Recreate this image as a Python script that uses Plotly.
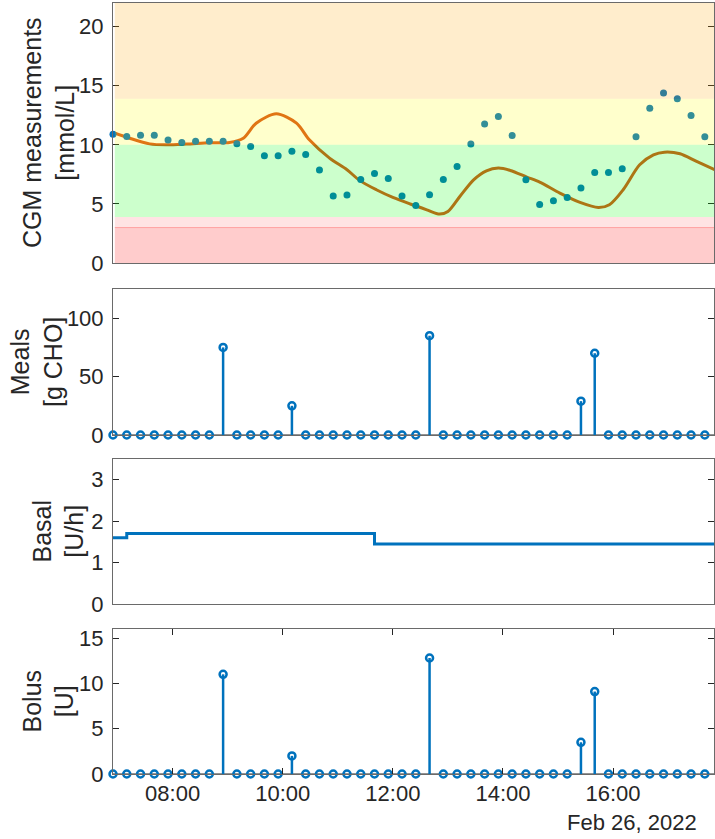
import plotly.graph_objects as go
from plotly.subplots import make_subplots

DAY = "2022-02-26 "

# ---- data -------------------------------------------------------------
sample_times = ["06:55", "07:10", "07:25", "07:40", "07:55", "08:10", "08:25", "08:40",
                "08:55", "09:10", "09:25", "09:40", "09:55", "10:10", "10:25", "10:40",
                "10:55", "11:10", "11:25", "11:40", "11:55", "12:10", "12:25", "12:40",
                "12:55", "13:10", "13:25", "13:40", "13:55", "14:10", "14:25", "14:40",
                "14:55", "15:10", "15:25", "15:40", "15:55", "16:10", "16:25", "16:40",
                "16:55", "17:10", "17:25", "17:40"]

cgm_values = [10.9, 10.7, 10.8, 10.8, 10.4, 10.2, 10.3, 10.3, 10.3, 10.1,
              9.86, 9.07, 9.07, 9.46, 9.18, 7.87, 5.66, 5.75, 7.07, 7.58,
              7.15, 5.66, 4.87, 5.77, 7.07, 8.17, 10.06, 11.77, 12.39, 10.79,
              7.04, 4.96, 5.27, 5.55, 6.34, 7.66, 7.66, 7.97, 10.68, 13.1,
              14.39, 13.89, 12.48, 10.68]

model_times = ["06:55", "07:13", "07:35", "07:53", "08:15", "08:40", "09:02", "09:17",
               "09:31", "09:53", "10:15", "10:29", "10:51", "11:10", "11:24", "11:42",
               "12:00", "12:19", "12:37", "12:51", "13:00", "13:13", "13:28", "13:42",
               "13:55", "14:08", "14:26", "14:40", "15:02", "15:24", "15:44", "15:56",
               "16:11", "16:29", "16:44", "16:56", "17:13", "17:31", "17:51"]
model_values = [11.04, 10.56, 10.08, 10.0, 10.06, 10.17, 10.2, 10.56,
                11.83, 12.62, 11.83, 10.42, 8.87, 7.89, 6.97, 6.2,
                5.55, 4.99, 4.5, 4.14, 4.36, 5.63, 7.04, 7.8,
                8.03, 7.83, 7.27, 6.85, 5.92, 5.13, 4.7, 4.93,
                6.2, 8.31, 9.15, 9.38, 9.24, 8.59, 7.89]

meal_values = [0, 0, 0, 0, 0, 0, 0, 0, 75, 0, 0, 0, 0, 25, 0, 0, 0, 0, 0, 0, 0, 0,
               0, 85, 0, 0, 0, 0, 0, 0, 0, 0, 0, 0, 29, 70, 0, 0, 0, 0, 0, 0, 0, 0]

bolus_values = [0, 0, 0, 0, 0, 0, 0, 0, 11.0, 0, 0, 0, 0, 2.0, 0, 0, 0, 0, 0, 0, 0, 0,
                0, 12.8, 0, 0, 0, 0, 0, 0, 0, 0, 0, 0, 3.5, 9.1, 0, 0, 0, 0, 0, 0, 0, 0]

basal_times = ["06:55", "07:10", "11:40", "17:50"]
basal_values = [1.6, 1.7, 1.45, 1.45]

# glucose range bands (mmol/L): lower, upper, fill colour
band_lower = [13.9, 10.0, 3.9, 3.0, 0.0]
band_upper = [22.0, 13.9, 10.0, 3.9, 3.0]
band_colors = ["rgba(255,165,0,0.2)", "rgba(255,255,0,0.2)", "rgba(0,255,0,0.2)",
               "rgba(255,0,0,0.11)", "rgba(255,0,0,0.2)"]

y_titles = ["CGM measurements<br>[mmol/L]", "Meals<br>[g CHO]", "Basal<br>[U/h]", "Bolus<br>[U]"]
y_ranges = [[0, 22], [0, 125], [0, 3.5], [0, 16]]
y_ticks = [[0, 5, 10, 15, 20], [0, 50, 100], [0, 1, 2, 3], [0, 5, 10, 15]]
x_range = ["06:55", "17:50"]

# ---- figure -----------------------------------------------------------
BLUE = "#0072BD"
ORANGE = "#D95319"
FONT = "Liberation Sans, Arial, Helvetica, sans-serif"
TXT = "#262626"
TICK_SIZE = 22
TITLE_SIZE = 25

def ts(lst):
    return [DAY + t for t in lst]

fig = make_subplots(rows=4, cols=1, shared_xaxes=True)

fig.add_trace(go.Scatter(x=ts(model_times), y=model_values, mode="lines",
                         line=dict(color=ORANGE, width=3, shape="spline", smoothing=0.8),
                         showlegend=False), row=1, col=1)
fig.add_trace(go.Scatter(x=ts(sample_times), y=cgm_values, mode="markers",
                         marker=dict(color=BLUE, size=7), cliponaxis=False,
                         showlegend=False), row=1, col=1)

stem_marker = dict(symbol="circle-open", size=7, color=BLUE, line=dict(width=2.5, color=BLUE))
for row, vals in [(2, meal_values), (4, bolus_values)]:
    fig.add_trace(go.Scatter(x=ts(sample_times), y=vals, mode="markers",
                             marker=stem_marker, cliponaxis=False, showlegend=False,
                             error_y=dict(type="data", symmetric=False,
                                          array=[0] * len(vals), arrayminus=vals,
                                          width=0, thickness=2.5, color=BLUE)),
                  row=row, col=1)

fig.add_trace(go.Scatter(x=ts(basal_times), y=basal_values, mode="lines",
                         line=dict(color=BLUE, width=3, shape="hv"), showlegend=False),
              row=3, col=1)

# bands above the data (semi-transparent), as in the original
for lo, hi, c in zip(band_lower, band_upper, band_colors):
    fig.add_shape(type="rect", xref="x domain", yref="y", x0=0.003, x1=1, y0=lo, y1=hi,
                  fillcolor=c, line=dict(width=0), layer="above")
fig.add_shape(type="line", xref="x domain", yref="y", x0=0.003, x1=1,
              y0=band_upper[4], y1=band_upper[4],
              line=dict(color="rgba(255,0,0,0.25)", width=1), layer="above")

H = 839
T, B = 3, 65
ph = H - T - B
panel_px = [(3, 263), (289, 435), (459, 604), (629, 774)]
domains = [[(H - B - b) / ph, (H - B - t) / ph] for t, b in panel_px]
domains[3][0] = 0.0
domains[0][1] = 1.0

axis_line = "#6a6a6a"
for i in range(4):
    n = "" if i == 0 else str(i + 1)
    fig.layout["yaxis" + n].update(
        domain=domains[i], range=y_ranges[i], tickvals=y_ticks[i], showgrid=False,
        zeroline=False, showline=True, linecolor=axis_line, linewidth=1, mirror="ticks",
        ticks="inside", ticklen=6, tickcolor=TXT, tickwidth=1,
        tickfont=dict(family=FONT, size=TICK_SIZE, color=TXT), ticklabelstandoff=4)
    fig.layout["xaxis" + n].update(
        type="date", range=ts(x_range), showgrid=False, zeroline=False, showline=True,
        linecolor=axis_line, linewidth=1, mirror=True)
    if i < 3:
        fig.layout["xaxis" + n].update(ticks="", showticklabels=False)
    else:
        fig.layout["xaxis" + n].update(
            ticks="inside", ticklen=6, tickcolor=TXT, mirror="ticks", dtick=7200000,
            tick0=DAY + "00:00", tickformat="%H:%M", showticklabels=True,
            tickfont=dict(family=FONT, size=TICK_SIZE, color=TXT), ticklabelstandoff=0)

# baselines for stem plots
for xr, yr in [("x2 domain", "y2"), ("x4 domain", "y4")]:
    fig.add_shape(type="line", xref=xr, yref=yr, x0=0, x1=1, y0=0, y1=0,
                  line=dict(color=TXT, width=1), layer="below")

title_center_px = [48, 36, 58, 48]
for i in range(4):
    n = "" if i == 0 else str(i + 1)
    fig.add_annotation(text=y_titles[i], xref="paper", yref="y" + n + " domain",
                       x=0, y=0.5, xshift=title_center_px[i] - 113, xanchor="center",
                       yanchor="middle", textangle=-90, showarrow=False,
                       font=dict(family=FONT, size=TITLE_SIZE, color=TXT))

fig.add_annotation(text="Feb 26, 2022", xref="paper", yref="paper", x=1, y=0,
                   xanchor="right", yanchor="middle", xshift=-15, yshift=-48,
                   showarrow=False, font=dict(family=FONT, size=TICK_SIZE, color=TXT))

fig.update_layout(width=715, height=H, margin=dict(l=113, r=1, t=T, b=B),
                  plot_bgcolor="white", paper_bgcolor="white", showlegend=False)

fig.write_html("out.html")
